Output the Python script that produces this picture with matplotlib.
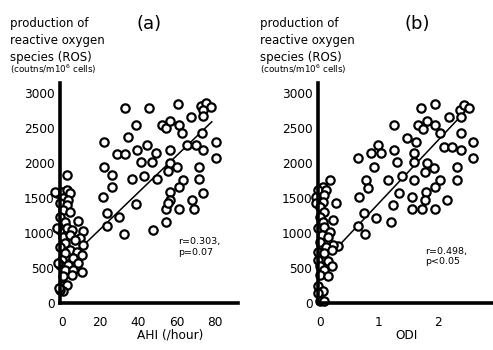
import numpy as np
import matplotlib.pyplot as plt

# panel (a): AHI vs ROS
ahi = [33.0, 45.6, 60.9, 72.7, 75.3, 77.7, 73.9, 73.6, 67.5, 38.8, 52.5, 54.3, 56.5,
       61.2, 63.0, 34.8, 22.1, 80.5, 73.4, 44.3, 39.1, 49.0, 28.7, 33.0, 56.5, 65.6,
       70.1, 73.9, 80.5, 41.2, 47.3, 22.1, 56.5, 60.0, 71.7, 26.1, 36.9, 43.1, 49.6,
       55.7, 63.1, 71.7, 61.2, 26.1, 21.4, 56.5, 56.5, 73.9, 68.2, 54.3, 61.2, 69.2,
       38.6, 23.8, 30.1, 23.8, 54.3, 47.8, 32.5, 55.7,
       2.6, -2.6, 0.0, 2.6, 4.3, 0.9, 3.5, -0.9, 2.6, 0.9, 4.3, -0.9, 8.7, 1.7, -0.9,
       2.6, 5.2, 11.3, 0.9, 4.3, 9.5, 6.9, 1.7, 11.3, -0.9, 4.3, 1.7, 7.8, 0.0, 6.1,
       10.4, -0.9, 3.5, 8.7, 1.7, 6.1, 10.4, 0.9, 5.2, 0.0, 2.6, 0.9, -0.9, -3.5,
       -2.6, -1.7, -1.3]
ros_a = [2785, 2785, 2846, 2818, 2866, 2800, 2760, 2675, 2666, 2547, 2547, 2500, 2608,
         2547, 2428, 2370, 2309, 2309, 2428, 2261, 2190, 2142, 2133, 2133, 2190, 2261,
         2261, 2190, 2071, 2013, 2023, 1952, 2009, 1952, 1952, 1833, 1771, 1818, 1771,
         1890, 1761, 1771, 1656, 1656, 1523, 1595, 1476, 1580, 1476, 1342, 1342, 1342,
         1414, 1285, 1228, 1104, 1166, 1047, 985, 1428,
         1832, 1571, 1594, 1618, 1571, 1500, 1475, 1428, 1404, 1332, 1308, 1237, 1175,
         1165, 1047, 1071, 1047, 1032, 951, 975, 928, 904, 857, 833, 808, 761, 714,
         737, 618, 642, 690, 547, 547, 571, 475, 475, 451, 380, 400, 237, 260, 166,
         190, 1594, 1071, 571, 214]

# panel (b): ODI vs ROS
odi = [1.72, 1.96, 2.375, 2.45, 2.53, 2.40, 2.19, 1.66, 1.82, 1.75, 1.96, 1.26, 2.03,
       1.48, 1.63, 2.39, 2.60, 0.99, 0.87, 1.04, 1.25, 1.60, 2.10, 2.24, 2.39, 2.60,
       0.64, 1.31, 1.59, 1.82, 0.92, 1.93, 1.79, 2.32, 1.39, 1.16, 0.78, 1.59, 2.03,
       2.32, 0.81, 1.96, 1.80, 1.35, 0.66, 1.57, 1.79, 2.16, 1.24, 1.57, 1.74, 1.95,
       0.75, 0.95, 1.20, 0.64, 0.77, 0.31,
       0.17, 0.06, -0.03, 0.11, -0.06, 0.08, 0.06, 0.28, -0.06, 0.0, 0.08, 0.0, 0.23,
       0.06, -0.03, 0.08, 0.17, 0.03, 0.14, 0.0, 0.23, 0.11, -0.03, 0.08, 0.2, -0.03,
       0.14, 0.0, 0.2, 0.08, 0.0, 0.14, -0.03, 0.06, -0.03, 0.0, 0.08]
ros_b = [2785, 2846, 2770, 2832, 2785, 2666, 2666, 2547, 2608, 2485, 2547, 2547, 2428,
         2356, 2309, 2428, 2309, 2261, 2142, 2142, 2190, 2142, 2237, 2237, 2190, 2071,
         2071, 2023, 2023, 2000, 1952, 1928, 1880, 1952, 1818, 1761, 1761, 1761, 1761,
         1761, 1642, 1656, 1595, 1580, 1523, 1523, 1476, 1476, 1404, 1347, 1347, 1347,
         1285, 1223, 1166, 1104, 985, 809,
         1761, 1665, 1618, 1618, 1523, 1547, 1451, 1428, 1428, 1380, 1308, 1237, 1190,
         1165, 1071, 1085, 1023, 975, 951, 880, 833, 808, 737, 714, 761, 618, 595, 523,
         523, 475, 404, 380, 237, 166, 143, 24, 24]

# regression lines
fit_a = (3.5, 78.3, 26.4, 527)
fit_b = (0.31, 2.44, 898, 530)

yticks = [0, 500, 1000, 1500, 2000, 2500, 3000]

W, H = 493, 350
fig = plt.figure(figsize=(W / 100, H / 100), dpi=100)
plt.rcParams['font.family'] = 'DejaVu Sans'


def panel(rect, x, y, fit, xlim, xticks, stat, stat_xy):
    ax = fig.add_axes(rect)
    xs = np.array([fit[0], fit[1]])
    ax.plot(xs, fit[3] + fit[2] * xs, color='black', lw=1.1, zorder=2)
    ax.plot(x, y, 'o', ms=6.0, mfc='white', mec='black', mew=1.6,
            clip_on=False, zorder=3)
    ax.set_xlim(*xlim)
    ax.set_ylim(0, 3150)
    ax.set_yticks(yticks)
    ax.set_xticks(xticks)
    for s in ['top', 'right']:
        ax.spines[s].set_visible(False)
    for s in ['left', 'bottom']:
        ax.spines[s].set_linewidth(2.6)
        ax.spines[s].set_zorder(4)
    ax.tick_params(length=0, labelsize=8.7)
    ax.tick_params(axis='x', pad=9)
    ax.tick_params(axis='y', pad=4)
    ax.text(stat_xy[0], stat_xy[1], stat, fontsize=6.8, va='top', ha='left',
            linespacing=1.25)
    return ax


panel([60 / W, 1 - 303 / H, 178 / W, 220 / H], ahi, ros_a, fit_a, (-0.9, 92),
      [0, 20, 40, 60, 80], 'r=0.303,\np=0.07', (60.7, 947))
panel([318 / W, 1 - 303 / H, 180 / W, 220 / H], odi, ros_b, fit_b, (-0.03, 3.02),
      [0, 1, 2, 3], 'r=0.498,\np<0.05', (1.78, 808))

for x0, letter, lx, axlabel, alx in [(10, '(a)', 149, 'AHI (/hour)', 170),
                                    (260, '(b)', 417, 'ODI', 407)]:
    fig.text(x0 / W, 1 - 27 / H, 'production of', fontsize=8.5, va='baseline')
    fig.text(x0 / W, 1 - 44 / H, 'reactive oxygen', fontsize=8.5, va='baseline')
    fig.text(x0 / W, 1 - 61 / H, 'species (ROS)', fontsize=8.5, va='baseline')
    fig.text(x0 / W, 1 - 73 / H, '(coutns/m10$^6$ cells)', fontsize=6.3,
             va='baseline')
    fig.text(lx / W, 1 - 29 / H, letter, fontsize=13, ha='center', va='baseline')
    fig.text(alx / W, 1 - 339 / H, axlabel, fontsize=8.7, ha='center',
             va='baseline')

fig.savefig('out.png', dpi=100)
